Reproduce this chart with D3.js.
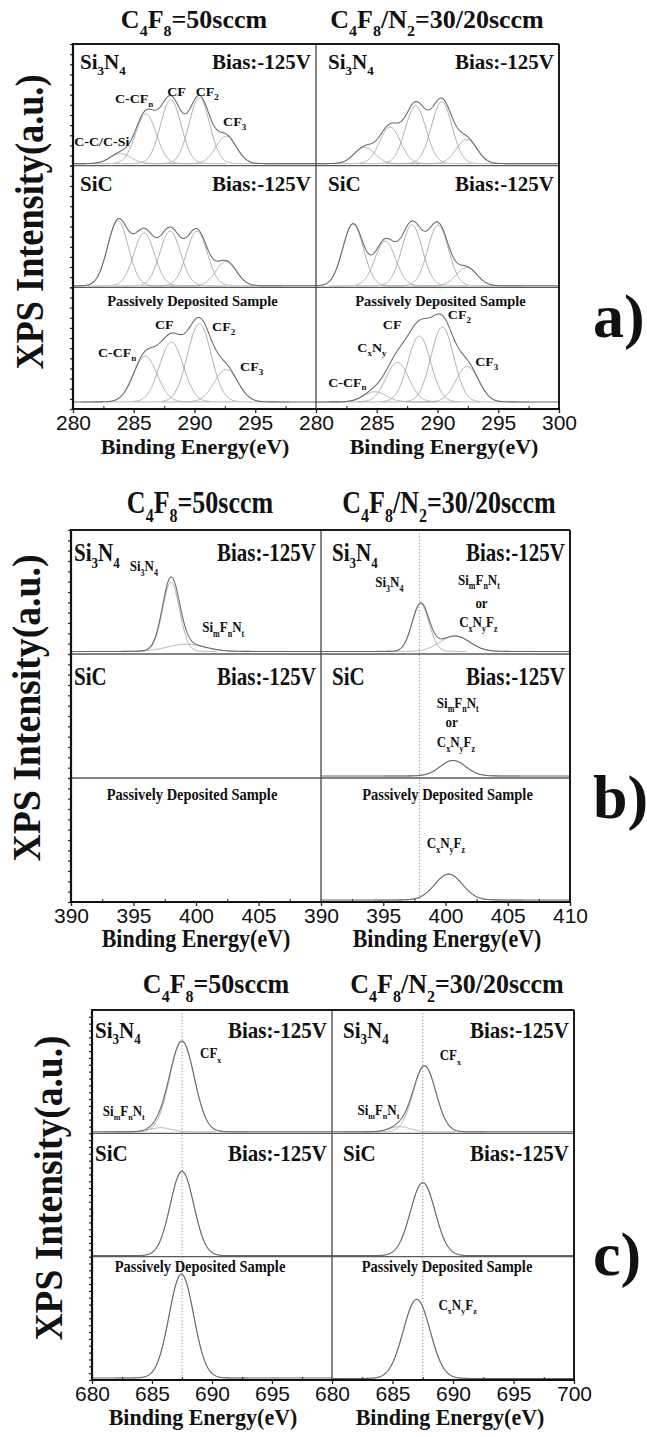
<!DOCTYPE html>
<html>
<head>
<meta charset="utf-8">
<script src="https://cdn.jsdelivr.net/npm/d3@7"></script>
<style>
  body { margin: 0; background: #fff; }
  svg { display: block; }
</style>
</head>
<body>
<svg id="chart" width="647" height="1437"></svg>
<script>
// ---------------- data ----------------
const columnTitles = ["C_4F_8=50sccm", "C_4F_8/N_2=30/20sccm"];
const rowLabels = ["Si_3N_4", "SiC", "Passively Deposited Sample"];
const biasText = "Bias:-125V";
const xAxisTitle = "Binding Energy(eV)";
const yAxisTitle = "XPS Intensity(a.u.)";
const panelLetters = ["a)", "b)", "c)"];

// binding-energy windows (eV) for C 1s, N 1s, F 1s
const c1sRange = [280, 300];
const n1sRange = [390, 410];
const f1sRange = [680, 700];
const c1sTicks = [280, 285, 290, 295, 300];
const n1sTicks = [390, 395, 400, 405, 410];
const f1sTicks = [680, 685, 690, 695, 700];

// fitted components: [centre (eV), height (a.u.), FWHM (eV)]
const c1s_C4F8_Si3N4   = [[283.9, 10, 2.0], [286.0, 49, 2.0], [288.05, 63, 2.0], [290.4, 65, 2.0], [292.6, 27, 2.0]];
const c1s_C4F8N2_Si3N4 = [[284.0, 16, 2.0], [286.1, 36, 2.0], [288.2, 57, 2.0], [290.35, 61, 2.0], [292.4, 24, 2.0]];
const c1s_C4F8_SiC     = [[283.7, 64, 2.0], [285.85, 52, 2.0], [288.0, 54, 2.0], [290.2, 54, 2.0], [292.6, 24, 2.0]];
const c1s_C4F8N2_SiC   = [[283.05, 61, 2.0], [285.7, 44, 2.0], [287.9, 60, 2.0], [290.05, 60, 2.0], [292.4, 18, 2.0]];
const c1s_C4F8_Pass    = [[285.95, 45, 2.3], [288.1, 59, 2.3], [290.4, 77, 2.3], [292.6, 32, 2.3]];
const c1s_C4F8N2_Pass  = [[284.85, 10, 2.2], [286.7, 39, 2.2], [288.5, 65, 2.2], [290.4, 74, 2.2], [292.45, 35, 2.2]];

const n1s_C4F8_Si3N4   = [[398.0, 67, 1.6], [399.2, 7, 3.5]];
const n1s_C4F8N2_Si3N4 = [[398.0, 46, 1.6], [400.75, 15, 2.8]];
const n1s_C4F8N2_SiC   = [[400.6, 15, 2.4]];
const n1s_C4F8N2_Pass  = [[400.25, 25, 2.6]];

const f1s_C4F8_Si3N4   = [[685.7, 4, 2.0], [687.5, 88, 2.4]];
const f1s_C4F8N2_Si3N4 = [[685.6, 5, 2.0], [687.65, 64, 2.2]];
const f1s_C4F8_SiC     = [[687.5, 82, 2.3]];
const f1s_C4F8N2_SiC   = [[687.5, 71, 2.4]];
const f1s_C4F8_Pass    = [[687.45, 101, 2.4]];
const f1s_C4F8N2_Pass  = [[687.0, 77, 2.6]];

// background level of each spectrum
const spectra = [
  { panel: 0, col: 0, row: 0, bg: 2,   peaks: c1s_C4F8_Si3N4 },
  { panel: 0, col: 1, row: 0, bg: 2,   peaks: c1s_C4F8N2_Si3N4 },
  { panel: 0, col: 0, row: 1, bg: 1.5, peaks: c1s_C4F8_SiC },
  { panel: 0, col: 1, row: 1, bg: 1.5, peaks: c1s_C4F8N2_SiC },
  { panel: 0, col: 0, row: 2, bg: 7,   peaks: c1s_C4F8_Pass },
  { panel: 0, col: 1, row: 2, bg: 7,   peaks: c1s_C4F8N2_Pass },
  { panel: 1, col: 0, row: 0, bg: 2.5, peaks: n1s_C4F8_Si3N4 },
  { panel: 1, col: 1, row: 0, bg: 2.5, peaks: n1s_C4F8N2_Si3N4 },
  { panel: 1, col: 1, row: 1, bg: 2,   peaks: n1s_C4F8N2_SiC },
  { panel: 1, col: 1, row: 2, bg: 2,   peaks: n1s_C4F8N2_Pass },
  { panel: 2, col: 0, row: 0, bg: 1.5, peaks: f1s_C4F8_Si3N4 },
  { panel: 2, col: 1, row: 0, bg: 1.5, peaks: f1s_C4F8N2_Si3N4 },
  { panel: 2, col: 0, row: 1, bg: 1,   peaks: f1s_C4F8_SiC },
  { panel: 2, col: 1, row: 1, bg: 1,   peaks: f1s_C4F8N2_SiC },
  { panel: 2, col: 0, row: 2, bg: 2,   peaks: f1s_C4F8_Pass },
  { panel: 2, col: 1, row: 2, bg: 1.5, peaks: f1s_C4F8N2_Pass }
];

// reference binding energies marked by dotted lines (per column)
const refEnergies = [[null, null], [null, 397.9], [687.5, 687.5]];

// peak assignments: energy (eV) and intensity (a.u.) where each label starts
const annotations = [
  { panel: 0, col: 0, row: 0, text: "C-C/C-Si", e: 280.1, v: 19 },
  { panel: 0, col: 0, row: 0, text: "C-CF_n", e: 283.45, v: 62 },
  { panel: 0, col: 0, row: 0, text: "CF", e: 287.75, v: 69 },
  { panel: 0, col: 0, row: 0, text: "CF_2", e: 290.1, v: 69 },
  { panel: 0, col: 0, row: 0, text: "CF_3", e: 292.35, v: 39 },
  { panel: 0, col: 0, row: 2, text: "C-CF_n", e: 282.05, v: 51 },
  { panel: 0, col: 0, row: 2, text: "CF", e: 286.75, v: 79 },
  { panel: 0, col: 0, row: 2, text: "CF_2", e: 291.45, v: 77 },
  { panel: 0, col: 0, row: 2, text: "CF_3", e: 293.75, v: 37 },
  { panel: 0, col: 1, row: 2, text: "C-CF_n", e: 281.0, v: 22 },
  { panel: 0, col: 1, row: 2, text: "C_xN_y", e: 283.4, v: 56 },
  { panel: 0, col: 1, row: 2, text: "CF", e: 285.5, v: 79 },
  { panel: 0, col: 1, row: 2, text: "CF_2", e: 290.85, v: 89 },
  { panel: 0, col: 1, row: 2, text: "CF_3", e: 293.1, v: 42 },
  { panel: 1, col: 0, row: 0, text: "Si_3N_4", e: 394.7, v: 80 },
  { panel: 1, col: 0, row: 0, text: "Si_mF_nN_t", e: 400.5, v: 21 },
  { panel: 1, col: 1, row: 0, text: "Si_3N_4", e: 394.35, v: 65 },
  { panel: 1, col: 1, row: 0, text: "Si_mF_nN_t", e: 401.0, v: 67 },
  { panel: 1, col: 1, row: 0, text: "or", e: 402.4, v: 45 },
  { panel: 1, col: 1, row: 0, text: "C_xN_yF_z", e: 401.1, v: 26 },
  { panel: 1, col: 1, row: 1, text: "Si_mF_nN_t", e: 399.3, v: 68 },
  { panel: 1, col: 1, row: 1, text: "or", e: 400.0, v: 49 },
  { panel: 1, col: 1, row: 1, text: "C_xN_yF_z", e: 399.3, v: 30 },
  { panel: 1, col: 1, row: 2, text: "C_xN_yF_z", e: 398.5, v: 52 },
  { panel: 2, col: 0, row: 0, text: "CF_x", e: 689.0, v: 73 },
  { panel: 2, col: 0, row: 0, text: "Si_mF_nN_t", e: 680.9, v: 17 },
  { panel: 2, col: 1, row: 0, text: "CF_x", e: 688.9, v: 71 },
  { panel: 2, col: 1, row: 0, text: "Si_mF_nN_t", e: 682.1, v: 18 },
  { panel: 2, col: 1, row: 2, text: "C_xN_yF_z", e: 688.8, v: 68 }
];

// ---------------- layout ----------------
const panels = [
  { range: c1sRange, ticks: c1sTicks, top: 44, bottom: 409, left: 73, mid: 316, right: 559,
    titleY: 28, titleX: [194, 437], axisTitleX: [195, 444], letterY: 337,
    yTitleX: 43, yTitleY: 222, yTitleLen: 295, labelDy: 25, rowLabelDx: [7, 12],
    passDx: [-2, 3], passDy: 19, yTickStep: 10, annSize: 14, sy: 0.95 },
  { range: n1sRange, ticks: n1sTicks, top: 530, bottom: 902, left: 71, mid: 321, right: 570,
    titleY: 513, titleX: [200, 449], axisTitleX: [196, 447], letterY: 818,
    yTitleX: 40, yTitleY: 708, yTitleLen: 307, labelDy: 31, rowLabelDx: [3, 11],
    passDx: [-4, 2], passDy: 22, yTickStep: 10, annSize: 13, sy: 1.18 },
  { range: f1sRange, ticks: f1sTicks, top: 1010, bottom: 1380, left: 92, mid: 332, right: 574,
    titleY: 993, titleX: [216, 457], axisTitleX: [203, 450], letterY: 1275,
    yTitleX: 62, yTitleY: 1188, yTitleLen: 305, labelDy: 28, rowLabelDx: [3, 11],
    passDx: [-12, -6], passDy: 15, yTickStep: 6.67, annSize: 13, sy: 1.08 }
];

const SERIF = "'Liberation Serif','Times New Roman',Times,serif";
const SANS = "'Liberation Sans',Arial,Helvetica,sans-serif";
const svg = d3.select("#chart");

// text with single-character subscripts written as _x, optionally stretched vertically
function richText(parent, str, o) {
  const size = o.size;
  const sub = o.subSize || Math.round(size * 0.64);
  const shift = o.shift != null ? o.shift : size * 0.3;
  const sy = o.sy || 1;
  const t = parent.append("text")
    .attr("transform", `translate(${o.x},${o.y}) scale(1,${sy})`)
    .attr("font-family", SERIF).attr("font-weight", "bold")
    .attr("font-size", size)
    .attr("text-anchor", o.anchor || "start")
    .attr("fill", o.fill || "#111");
  const parts = str.split(/(_[A-Za-z0-9])/).filter(s => s.length);
  let cur = 0;
  parts.forEach(p => {
    const isSub = p[0] === "_" && p.length === 2;
    const target = isSub ? shift : 0;
    t.append("tspan")
      .attr("dy", target - cur)
      .attr("font-size", isSub ? sub : size)
      .text(isSub ? p[1] : p);
    cur = target;
  });
  return t;
}

function gauss(e, p) {
  const [c, h, w] = p;
  return h * Math.exp(-4 * Math.LN2 * (e - c) * (e - c) / (w * w));
}

const VMAX = 120;

panels.forEach((P, pi) => {
  const g = svg.append("g");
  const rowH = (P.bottom - P.top) / 3;
  const cols = [[P.left, P.mid], [P.mid, P.right]];
  const xs = cols.map(c => d3.scaleLinear().domain(P.range).range(c));
  const ys = [0, 1, 2].map(r => d3.scaleLinear().domain([0, VMAX])
    .range([P.top + (r + 1) * rowH, P.top + r * rowH]));

  // dotted reference lines
  refEnergies[pi].forEach((e, ci) => {
    if (e == null) return;
    g.append("line")
      .attr("x1", xs[ci](e)).attr("x2", xs[ci](e))
      .attr("y1", P.top).attr("y2", P.bottom)
      .attr("stroke", "#8a8a8a").attr("stroke-width", 1)
      .attr("stroke-dasharray", "1.2,2");
  });

  // spectra: fitted components and their envelope
  spectra.filter(s => s.panel === pi).forEach(s => {
    const x = xs[s.col], y = ys[s.row];
    const line = d3.line().x(d => x(d[0])).y(d => y(d[1])).curve(d3.curveLinear);
    s.peaks.forEach(p => {
      const lo = Math.max(P.range[0], p[0] - 2.3 * p[2]);
      const hi = Math.min(P.range[1], p[0] + 2.3 * p[2]);
      const pts = d3.range(lo, hi + 1e-9, 0.05).map(e => [e, s.bg + gauss(e, p)]);
      g.append("path").attr("d", line(pts))
        .attr("fill", "none").attr("stroke", "#a6a6a6").attr("stroke-width", 0.9);
    });
    const env = d3.range(P.range[0], P.range[1] + 1e-9, 0.05)
      .map(e => [e, s.bg + d3.sum(s.peaks, p => gauss(e, p))]);
    g.append("path").attr("d", line(env))
      .attr("fill", "none").attr("stroke", "#686868").attr("stroke-width", 1.05);
  });

  // row dividers
  [1, 2].forEach(r => {
    g.append("line")
      .attr("x1", P.left).attr("x2", P.right)
      .attr("y1", P.top + r * rowH).attr("y2", P.top + r * rowH)
      .attr("stroke", "#5a5a5a").attr("stroke-width", 1.3);
  });
  // column divider
  g.append("line")
    .attr("x1", P.mid).attr("x2", P.mid).attr("y1", P.top).attr("y2", P.bottom)
    .attr("stroke", "#444").attr("stroke-width", 1.3);

  // left axis ticks
  ys.forEach(y => {
    const ax = d3.axisLeft(y).tickValues(d3.range(0, VMAX + 0.01, P.yTickStep))
      .tickSize(3).tickFormat("");
    const a = g.append("g").attr("transform", `translate(${P.left},0)`).call(ax);
    a.select(".domain").remove();
    a.selectAll("line").attr("stroke", "#222").attr("stroke-width", 1.2);
  });

  // bottom axes
  xs.forEach((x, ci) => {
    const vals = ci === 0 ? P.ticks.slice(0, -1) : P.ticks;
    const major = d3.axisBottom(x).tickValues(vals).tickSize(4).tickPadding(2)
      .tickFormat(d3.format("d"));
    const a = g.append("g").attr("transform", `translate(0,${P.bottom})`).call(major);
    a.select(".domain").remove();
    a.selectAll("line").attr("stroke", "#222").attr("stroke-width", 1.3);
    a.selectAll("text").attr("font-family", SANS).attr("font-size", 21).attr("fill", "#111");
    const minorVals = d3.range(P.range[0] + 2.5, P.range[1], 5);
    const minor = d3.axisBottom(x).tickValues(minorVals).tickSize(-3).tickFormat("");
    const m = g.append("g").attr("transform", `translate(0,${P.bottom})`).call(minor);
    m.select(".domain").remove();
    m.selectAll("line").attr("stroke", "#333").attr("stroke-width", 1.1);
  });

  // frame
  g.append("line").attr("x1", P.left).attr("x2", P.right).attr("y1", P.top).attr("y2", P.top)
    .attr("stroke", "#1a1a1a").attr("stroke-width", 2);
  g.append("line").attr("x1", P.right).attr("x2", P.right).attr("y1", P.top).attr("y2", P.bottom)
    .attr("stroke", "#1a1a1a").attr("stroke-width", 2);
  g.append("line").attr("x1", P.left).attr("x2", P.left).attr("y1", P.top - 1).attr("y2", P.bottom + 1)
    .attr("stroke", "#111").attr("stroke-width", 2.2);
  g.append("line").attr("x1", P.left - 1).attr("x2", P.right + 1).attr("y1", P.bottom).attr("y2", P.bottom)
    .attr("stroke", "#111").attr("stroke-width", 2.2);

  // column titles and axis titles
  columnTitles.forEach((t, ci) => {
    richText(g, t, { x: P.titleX[ci], y: P.titleY, size: 26, subSize: 16, shift: 8, anchor: "middle", sy: P.sy });
    richText(g, xAxisTitle, { x: P.axisTitleX[ci], y: P.bottom + 45, size: 22, anchor: "middle", sy: P.sy });
  });

  // row labels and bias
  cols.forEach((c, ci) => {
    [0, 1].forEach(r => {
      const ty = P.top + r * rowH + P.labelDy;
      richText(g, rowLabels[r], { x: c[0] + P.rowLabelDx[ci], y: ty, size: 21, subSize: 13, shift: 6, sy: P.sy });
      richText(g, biasText, { x: c[1] - 5, y: ty, size: 21, anchor: "end", sy: P.sy });
    });
    richText(g, rowLabels[2], {
      x: (c[0] + c[1]) / 2 + P.passDx[ci], y: P.top + 2 * rowH + P.passDy,
      size: 14.5, anchor: "middle", sy: P.sy
    });
  });

  // peak assignments
  annotations.filter(a => a.panel === pi).forEach(a => {
    richText(g, a.text, {
      x: xs[a.col](a.e), y: ys[a.row](a.v),
      size: P.annSize, subSize: Math.round(P.annSize * 0.62), shift: 4, sy: P.sy
    });
  });

  // y-axis title
  g.append("text")
    .attr("transform", `translate(${P.yTitleX},${P.yTitleY}) rotate(-90)`)
    .attr("text-anchor", "middle")
    .attr("font-family", SERIF).attr("font-weight", "bold").attr("font-size", 40)
    .attr("textLength", P.yTitleLen).attr("lengthAdjust", "spacingAndGlyphs")
    .attr("fill", "#111").text(yAxisTitle);

  // panel letter
  g.append("text")
    .attr("x", 593).attr("y", P.letterY)
    .attr("font-family", SERIF).attr("font-weight", "bold").attr("font-size", 62)
    .attr("fill", "#111").text(panelLetters[pi]);
});
</script>
</body>
</html>
